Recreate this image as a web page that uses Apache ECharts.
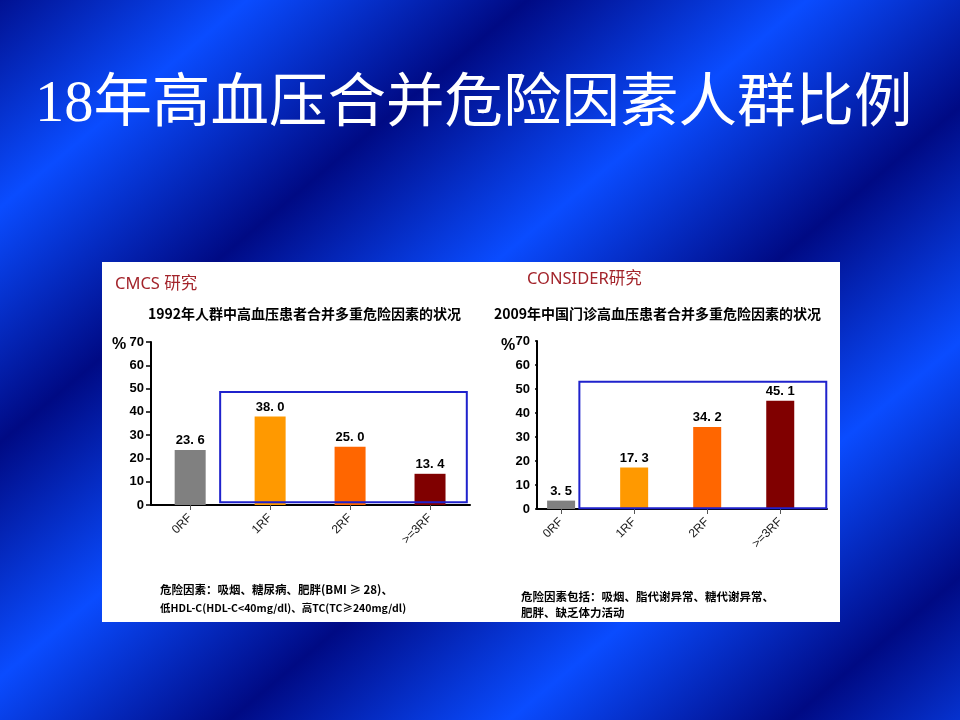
<!DOCTYPE html>
<html>
<head>
<meta charset="utf-8">
<script src="https://cdn.jsdelivr.net/npm/echarts@6/dist/echarts.min.js"></script>
<style>
  html, body { margin: 0; padding: 0; }
  #main {
    width: 960px;
    height: 720px;
    background: repeating-linear-gradient(140deg, #000a84 -21px, #0a4cff 159px, #000a84 339px);
  }
</style>
</head>
<body>
<div id="main"></div>
<script>
// 数据
var categories = ['0RF', '1RF', '2RF', '>=3RF'];
var cmcsValues = [23.6, 38.0, 25.0, 13.4];       // 1992 CMCS
var considerValues = [3.5, 17.3, 34.2, 45.1];    // 2009 CONSIDER
var yTicks = [0, 10, 20, 30, 40, 50, 60, 70];
var barColors = ['#808080', '#ff9900', '#ff6600', '#800000'];

// 蓝框范围（数据坐标）
var cmcsBox = [0.375, 48.5, 3.46, 1.2];
var considerBox = [0.25, 53, 3.63, 0.3];

var chart = echarts.init(document.getElementById('main'));

function toPoints(vals) {
  return vals.map(function(v, i) { return [i, v]; });
}

function makeX(grid, min, max) {
  return {
    type: 'value',
    gridIndex: grid,
    min: min,
    max: max,
    splitLine: { show: false },
    axisLine: { show: true, onZero: false, lineStyle: { color: '#000', width: 2 } },
    axisTick: {
      show: true,
      length: 5,
      customValues: [0, 1, 2, 3],
      lineStyle: { color: '#555', width: 1 }
    },
    axisLabel: {
      customValues: [0, 1, 2, 3],
      rotate: 45,
      margin: 11,
      color: '#222',
      fontSize: 12,
      fontFamily: 'Liberation Sans',
      formatter: function(v) { return categories[Math.round(v)]; }
    }
  };
}

function makeY(grid, tickLen, margin) {
  return {
    type: 'value',
    gridIndex: grid,
    min: yTicks[0],
    max: yTicks[yTicks.length - 1],
    interval: 10,
    splitLine: { show: false },
    axisLine: { show: true, onZero: false, lineStyle: { color: '#000', width: 2 } },
    axisTick: { show: true, length: tickLen, lineStyle: { color: '#000', width: 1.5 } },
    axisLabel: {
      margin: margin,
      color: '#000',
      fontSize: 13,
      fontWeight: 'bold',
      fontFamily: 'Liberation Sans'
    }
  };
}

function makeBars(grid, vals, width, box) {
  return {
    type: 'bar',
    xAxisIndex: grid,
    yAxisIndex: grid,
    barWidth: width,
    data: toPoints(vals),
    itemStyle: {
      color: function(p) { return barColors[p.dataIndex]; }
    },
    label: {
      show: true,
      position: 'top',
      distance: 3,
      color: '#000',
      fontSize: 13,
      fontWeight: 'bold',
      fontFamily: 'Liberation Sans',
      formatter: function(p) { return p.value[1].toFixed(1).replace('.', '. '); }
    },
    markArea: {
      silent: true,
      z: 5,
      itemStyle: { color: 'rgba(0,0,0,0)', borderColor: '#1f22cc', borderWidth: 2 },
      data: [[{ coord: [box[0], box[1]] }, { coord: [box[2], box[3]] }]]
    }
  };
}

var option = {
  animation: false,
  grid: [
    { left: 151, top: 342, width: 319, height: 163 },
    { left: 537, top: 341, width: 290, height: 168 }
  ],
  xAxis: [makeX(0, -0.49, 3.5), makeX(1, -0.33, 3.64)],
  yAxis: [makeY(0, 5, 7), makeY(1, 2, 7)],
  series: [
    makeBars(0, cmcsValues, 31, cmcsBox),
    makeBars(1, considerValues, 28, considerBox)
  ],
  graphic: [
    {
      type: 'text', left: 35, top: 76, z: 10,
      style: {
        text: '18年高血压合并危险因素人群比例',
        fill: '#fff',
        font: 'normal 58.5px "Liberation Serif", "Noto Sans CJK SC"',
        shadowColor: 'rgba(0,0,30,0.7)', shadowBlur: 2, shadowOffsetX: 2, shadowOffsetY: 2
      }
    },
    {
      type: 'rect', z: -1, silent: true,
      shape: { x: 102, y: 262, width: 738, height: 360 },
      style: { fill: '#fff' }
    },
    {
      type: 'text', left: 115, top: 276,
      style: { text: 'CMCS 研究', fill: '#a3242b', font: 'normal 16.5px "Noto Sans", "Noto Sans CJK SC"' }
    },
    {
      type: 'text', left: 527, top: 271,
      style: { text: 'CONSIDER研究', fill: '#a3242b', font: 'normal 16.5px "Noto Sans", "Noto Sans CJK SC"' }
    },
    {
      type: 'text', left: 148, top: 307,
      style: { text: '1992年人群中高血压患者合并多重危险因素的状况', fill: '#000', font: 'bold 14px "Noto Sans CJK SC"' }
    },
    {
      type: 'text', left: 494, top: 307,
      style: { text: '2009年中国门诊高血压患者合并多重危险因素的状况', fill: '#000', font: 'bold 14px "Noto Sans CJK SC"' }
    },
    {
      type: 'text', left: 112, top: 337,
      style: { text: '%', fill: '#000', font: 'bold 16px "Liberation Sans"' }
    },
    {
      type: 'text', left: 501, top: 338,
      style: { text: '%', fill: '#000', font: 'bold 16px "Liberation Sans"' }
    },
    {
      type: 'text', left: 160, top: 584,
      style: {
        text: '危险因素：吸烟、糖尿病、肥胖(BMI ≥ 28)、',
        fill: '#000',
        font: 'bold 11.5px "Noto Sans CJK SC"'
      }
    },
    {
      type: 'text', left: 160, top: 603,
      style: {
        text: '低HDL-C(HDL-C<40mg/dl)、高TC(TC≥240mg/dl)',
        fill: '#000',
        font: 'bold 10.5px "Noto Sans CJK SC"'
      }
    },
    {
      type: 'text', left: 521, top: 589,
      style: {
        text: '危险因素包括：吸烟、脂代谢异常、糖代谢异常、\n肥胖、缺乏体力活动',
        fill: '#000', lineHeight: 16,
        font: 'bold 11.5px "Noto Sans CJK SC"'
      }
    }
  ]
};

chart.setOption(option);
</script>
</body>
</html>
